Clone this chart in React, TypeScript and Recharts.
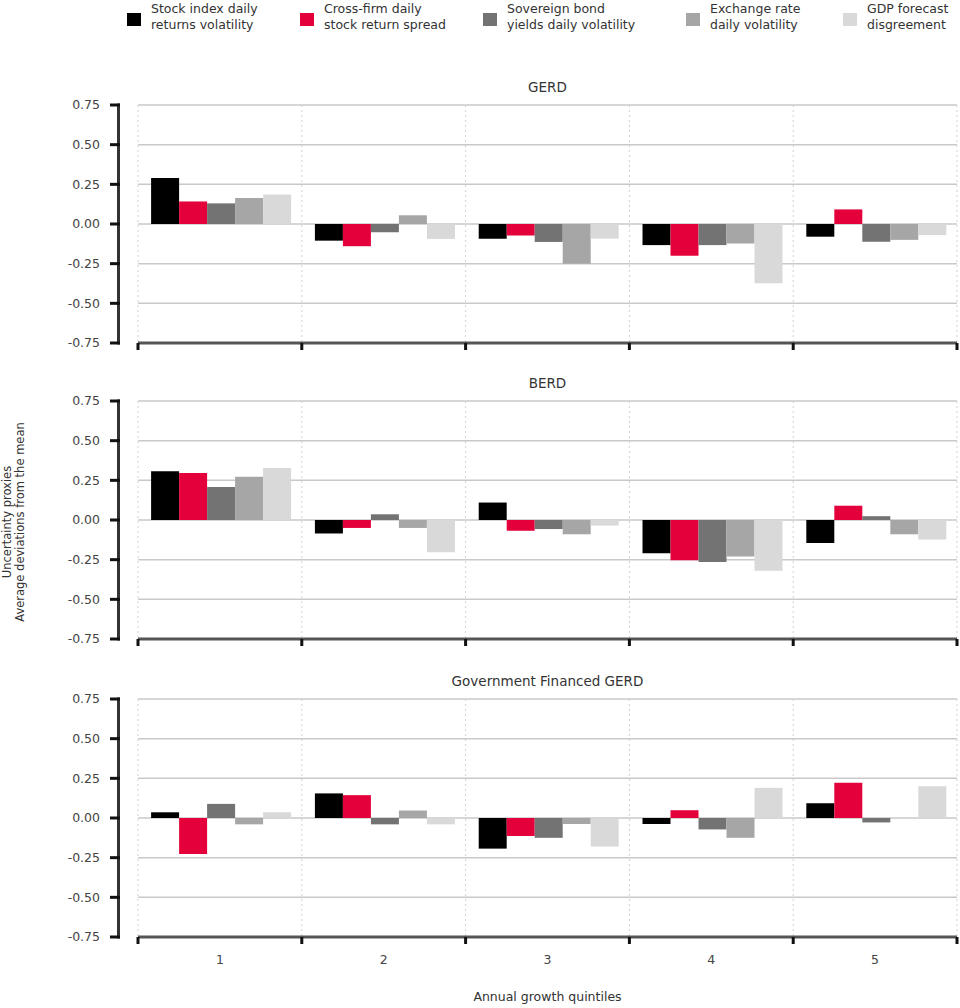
import React from 'react';
import { BarChart, Bar, XAxis, YAxis, CartesianGrid } from 'recharts';

const quintiles = ['1', '2', '3', '4', '5'];
const seriesKeys = ['stock', 'cross', 'sov', 'fx', 'gdp'];
const seriesLabels = [
  ['Stock index daily', 'returns volatility'],
  ['Cross-firm daily', 'stock return spread'],
  ['Sovereign bond', 'yields daily volatility'],
  ['Exchange rate', 'daily volatility'],
  ['GDP forecast', 'disgreement'],
];
const seriesColors = ['#000000', '#e4003b', '#737373', '#a6a6a6', '#d9d9d9'];
const legendLeft = [127, 300, 483, 686, 843];

const panelTitles = ['GERD', 'BERD', 'Government Financed GERD'];

// GERD
const gerdStock = [0.29, -0.105, -0.093, -0.133, -0.08];
const gerdCross = [0.142, -0.14, -0.072, -0.2, 0.092];
const gerdSov = [0.13, -0.052, -0.113, -0.133, -0.112];
const gerdFx = [0.164, 0.055, -0.25, -0.123, -0.1];
const gerdGdp = [0.186, -0.094, -0.092, -0.373, -0.07];

// BERD
const berdStock = [0.307, -0.085, 0.11, -0.21, -0.145];
const berdCross = [0.297, -0.05, -0.068, -0.254, 0.09];
const berdSov = [0.208, 0.036, -0.057, -0.265, 0.024];
const berdFx = [0.273, -0.05, -0.09, -0.23, -0.09];
const berdGdp = [0.328, -0.203, -0.035, -0.32, -0.123];

// Government Financed GERD
const govStock = [0.036, 0.155, -0.193, -0.038, 0.093];
const govCross = [-0.227, 0.144, -0.114, 0.049, 0.222];
const govSov = [0.089, -0.04, -0.125, -0.072, -0.028];
const govFx = [-0.04, 0.047, -0.038, -0.125, 0];
const govGdp = [0.036, -0.04, -0.18, 0.19, 0.2];

const yTicks = [-0.75, -0.5, -0.25, 0, 0.25, 0.5, 0.75];
const xTicks = [0, 1, 2, 3, 4, 5];

const FONT = '"DejaVu Sans", "Noto Sans", sans-serif';
const TEXT = '#333333';
const CHART_W = 960;
const MARGIN_TOP = 10;
const PLOT_H = 238;
const X_H = 30;
const CHART_H = MARGIN_TOP + PLOT_H + X_H;
const Y_W = 138;
const MARGIN_R = 3;
const PLOT_W = CHART_W - Y_W - MARGIN_R;
const plotTops = [104.5, 401, 698.7];

function buildRows(series: number[][]) {
  return quintiles.map((q, i) => {
    const row: Record<string, number | string> = { x: i + 0.5, q };
    seriesKeys.forEach((k, s) => {
      row[k] = series[s][i];
    });
    return row;
  });
}

const panels = [
  buildRows([gerdStock, gerdCross, gerdSov, gerdFx, gerdGdp]),
  buildRows([berdStock, berdCross, berdSov, berdFx, berdGdp]),
  buildRows([govStock, govCross, govSov, govFx, govGdp]),
];

function YTick(props: any) {
  const { x, y, payload } = props;
  return (
    <g>
      <line x1={x - 28} x2={x - 18} y1={y} y2={y} stroke="#111" strokeWidth={3} />
      <text x={x - 38} y={y} dy="0.35em" textAnchor="end" fontSize={12.5} fill="#444" fontFamily={FONT}>
        {Number(payload.value).toFixed(2)}
      </text>
    </g>
  );
}

function YLine(props: any) {
  const vb = props.viewBox || {};
  const lx = vb.x + vb.width - 19.5;
  return <line x1={lx} x2={lx} y1={vb.y - 1.5} y2={vb.y + vb.height + 1.5} stroke="#333" strokeWidth={3} />;
}

function XTickLabel(props: any) {
  const { x, y, payload } = props;
  const v = Number(payload.value);
  if (v >= quintiles.length) return <g />;
  return (
    <text x={x + PLOT_W / quintiles.length / 2} y={y + 14} dy="0.35em" textAnchor="middle" fontSize={12.5} fill="#444" fontFamily={FONT}>
      {quintiles[v]}
    </text>
  );
}

function XTickEmpty() {
  return <g />;
}

function Panel({ rows, top, showLabels }: { rows: any[]; top: number; showLabels: boolean }) {
  return (
    <div style={{ position: 'absolute', left: 0, top, width: CHART_W, height: CHART_H }}>
      <BarChart
        width={CHART_W}
        height={CHART_H}
        data={rows}
        margin={{ top: MARGIN_TOP, right: MARGIN_R, bottom: 0, left: 0 }}
        barCategoryGap="8%"
        barGap={0}
      >
        <CartesianGrid vertical={false} stroke="#c9c9c9" strokeWidth={1.5} />
        <CartesianGrid horizontal={false} stroke="#d2d2d2" strokeDasharray="2 3" />
        <XAxis
          dataKey="x"
          type="number"
          domain={[0, 5]}
          ticks={xTicks}
          interval={0}
          height={X_H}
          axisLine={{ stroke: '#555', strokeWidth: 3 }}
          tickLine={{ stroke: '#111', strokeWidth: 3 }}
          tickSize={7}
          tick={showLabels ? <XTickLabel /> : <XTickEmpty />}
        />
        <YAxis
          type="number"
          domain={[-0.75, 0.75]}
          ticks={yTicks}
          interval={0}
          width={Y_W}
          axisLine={false}
          tickLine={false}
          tickSize={0}
          tickMargin={0}
          tick={<YTick />}
          label={{ content: <YLine /> }}
        />
        {seriesKeys.map((k, i) => (
          <Bar key={k} dataKey={k} fill={seriesColors[i]} isAnimationActive={false} />
        ))}
      </BarChart>
    </div>
  );
}

export default function App() {
  return (
    <div style={{ position: 'absolute', left: 0, top: 0, width: 960, height: 1008, background: '#fff', fontFamily: FONT, color: TEXT }}>
      {seriesLabels.map((lines, i) => (
        <div key={i} style={{ position: 'absolute', left: legendLeft[i], top: 1, height: 34 }}>
          <div style={{ position: 'absolute', left: 0, top: 12, width: 14, height: 13, background: seriesColors[i] }} />
          <div style={{ position: 'absolute', left: 24, top: 0, whiteSpace: 'nowrap', fontSize: 12.5, lineHeight: '16px' }}>
            {lines[0]}
            <br />
            {lines[1]}
          </div>
        </div>
      ))}
      {panels.map((rows, i) => (
        <React.Fragment key={i}>
          <div
            style={{
              position: 'absolute',
              left: Y_W,
              width: PLOT_W,
              top: plotTops[i] - 18 - 9,
              height: 18,
              lineHeight: '18px',
              textAlign: 'center',
              fontSize: 13.5,
            }}
          >
            {panelTitles[i]}
          </div>
          <Panel rows={rows} top={plotTops[i] - MARGIN_TOP} showLabels={i === 2} />
        </React.Fragment>
      ))}
      <div
        style={{
          position: 'absolute',
          left: 16 - 150,
          top: 522 - 15,
          width: 300,
          height: 30,
          transform: 'rotate(-90deg)',
          textAlign: 'center',
          fontSize: 11.5,
          lineHeight: '13px',
        }}
      >
        Uncertainty proxies
        <br />
        Average deviations from the mean
      </div>
      <div
        style={{
          position: 'absolute',
          left: Y_W,
          width: PLOT_W,
          top: 997 - 9,
          height: 18,
          lineHeight: '18px',
          textAlign: 'center',
          fontSize: 12.5,
        }}
      >
        Annual growth quintiles
      </div>
    </div>
  );
}
